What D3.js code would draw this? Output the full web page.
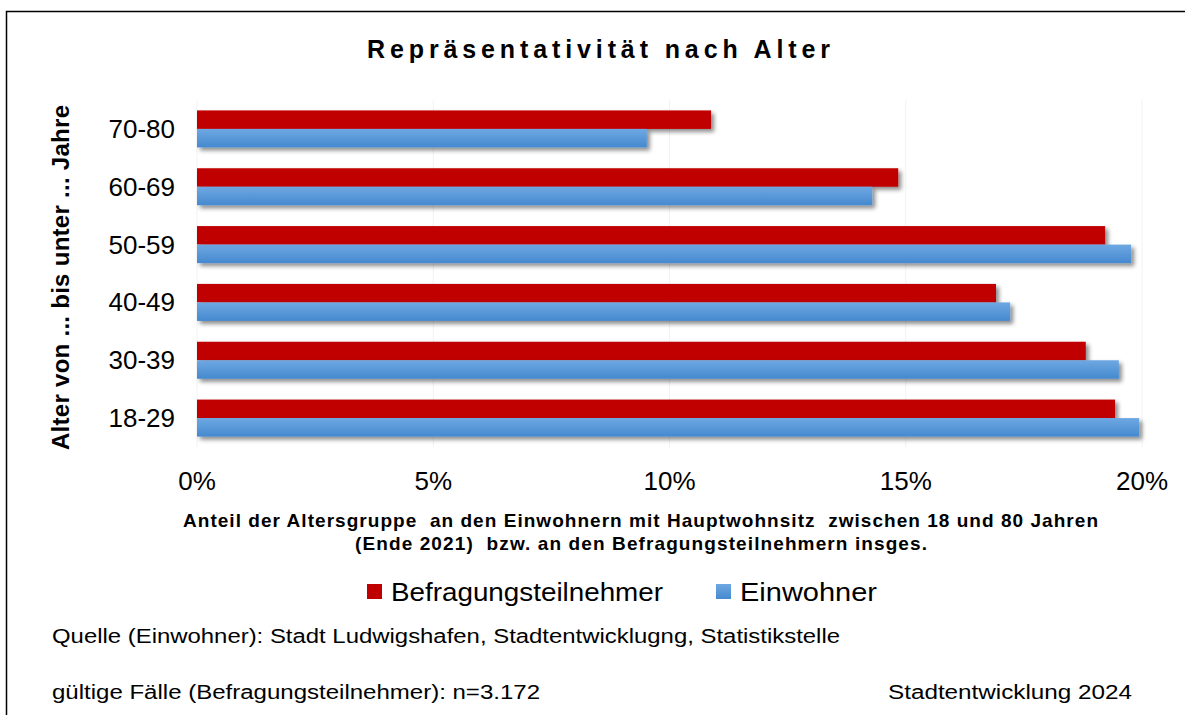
<!DOCTYPE html>
<html>
<head>
<meta charset="utf-8">
<script src="https://cdn.jsdelivr.net/npm/d3@7"></script>
<style>
  body { margin: 0; background: #fff; }
  text { font-family: "Liberation Sans", Arial, sans-serif; fill: #000; }
</style>
</head>
<body>
<div id="chart"></div>
<script>
// categories, top to bottom
const ageGroups = ["70-80", "60-69", "50-59", "40-49", "30-39", "18-29"];
const seriesNames = ["Befragungsteilnehmer", "Einwohner"];
// percent values per age group
const befragung = [10.88, 14.84, 19.22, 16.91, 18.81, 19.43];
const einwohner = [9.52, 14.29, 19.77, 17.21, 19.51, 19.94];
const xTicks = [0, 5, 10, 15, 20];

const W = 1185, H = 715;
const svg = d3.select("#chart").append("svg")
    .attr("width", W)
    .attr("height", H);

const defs = svg.append("defs");
const grad = defs.append("linearGradient")
    .attr("id", "blueGrad")
    .attr("x1", 0).attr("y1", 0).attr("x2", 0).attr("y2", 1);
grad.append("stop").attr("offset", "0%").attr("stop-color", "#6ea8e2");
grad.append("stop").attr("offset", "100%").attr("stop-color", "#4589cf");
const shadow = defs.append("filter")
    .attr("id", "shadow")
    .attr("x", "-5%").attr("y", "-30%").attr("width", "110%").attr("height", "190%");
shadow.append("feDropShadow")
    .attr("dx", 3).attr("dy", 3)
    .attr("stdDeviation", 2)
    .attr("flood-color", "#000")
    .attr("flood-opacity", 0.45);

// frame (right and bottom run off the picture)
svg.append("rect")
    .attr("x", 6.5).attr("y", 11.5)
    .attr("width", W + 10).attr("height", H + 10)
    .attr("fill", "none")
    .attr("stroke", "#000")
    .attr("stroke-width", 1.5);

const x = d3.scaleLinear().domain([0, 20]).range([197, 1142]);
const y = d3.scaleBand().domain(ageGroups).range([100, 447])
    .paddingInner(0.36).paddingOuter(0.18);
const ySub = d3.scaleBand().domain(seriesNames).range([0, y.bandwidth()]);

// faint grid
svg.append("g").selectAll("line")
    .data(xTicks)
    .join("line")
    .attr("x1", d => x(d)).attr("x2", d => x(d))
    .attr("y1", 100).attr("y2", 447)
    .attr("stroke", "#f2f2f2")
    .attr("stroke-width", 1);

const rows = ageGroups.map((g, i) => ({
    group: g,
    values: [
        {name: seriesNames[0], v: befragung[i]},
        {name: seriesNames[1], v: einwohner[i]}
    ]
}));

const fills = {
    "Befragungsteilnehmer": "#c00000",
    "Einwohner": "url(#blueGrad)"
};

svg.append("g").selectAll("g")
    .data(rows)
    .join("g")
    .attr("transform", d => `translate(0,${y(d.group)})`)
    .selectAll("rect")
    .data(d => d.values)
    .join("rect")
    .attr("x", x(0))
    .attr("y", d => ySub(d.name))
    .attr("width", d => x(d.v) - x(0))
    .attr("height", ySub.bandwidth())
    .attr("fill", d => fills[d.name])
    .attr("filter", "url(#shadow)");

// category labels
svg.append("g").selectAll("text")
    .data(ageGroups)
    .join("text")
    .attr("x", 175)
    .attr("y", d => y(d) + y.bandwidth() / 2 + 9)
    .attr("text-anchor", "end")
    .style("font-size", "26px")
    .text(d => d);

// x tick labels
svg.append("g").selectAll("text")
    .data(xTicks)
    .join("text")
    .attr("x", d => x(d))
    .attr("y", 490)
    .attr("text-anchor", "middle")
    .style("font-size", "26px")
    .text(d => d + "%");

// title
svg.append("text")
    .attr("x", 367).attr("y", 58)
    .attr("textLength", 463)
    .attr("lengthAdjust", "spacing")
    .style("font-size", "25px")
    .style("font-weight", "bold")
    .text("Repräsentativität nach Alter");

// y axis title
svg.append("text")
    .attr("transform", "translate(69,450) rotate(-90)")
    .attr("textLength", 345)
    .attr("lengthAdjust", "spacing")
    .style("font-size", "24px")
    .style("font-weight", "bold")
    .text("Alter von ... bis unter ... Jahre");

// x axis title
const xTitle = [
    {t: "Anteil der Altersgruppe  an den Einwohnern mit Hauptwohnsitz  zwischen 18 und 80 Jahren", x: 183, w: 915},
    {t: "(Ende 2021)  bzw. an den Befragungsteilnehmern insges.", x: 355, w: 572}
];
svg.append("g").selectAll("text")
    .data(xTitle)
    .join("text")
    .attr("x", d => d.x)
    .attr("y", (d, i) => 527 + i * 23)
    .attr("textLength", d => d.w)
    .attr("lengthAdjust", "spacing")
    .style("font-size", "19px")
    .style("font-weight", "bold")
    .style("white-space", "pre")
    .text(d => d.t);

// legend
const legendX = [367, 716];
const legendW = [272, 137];
const lg = svg.append("g").selectAll("g")
    .data(seriesNames)
    .join("g")
    .attr("transform", (d, i) => `translate(${legendX[i]},584)`);
lg.append("rect")
    .attr("width", 15).attr("height", 15)
    .attr("fill", d => fills[d]);
lg.append("text")
    .attr("x", 24).attr("y", 17)
    .attr("textLength", (d, i) => legendW[i])
    .attr("lengthAdjust", "spacingAndGlyphs")
    .style("font-size", "25px")
    .text(d => d);

// footer notes
const notes = [
    {t: "Quelle (Einwohner): Stadt Ludwigshafen, Stadtentwicklugng, Statistikstelle", x: 52, y: 643, w: 788},
    {t: "gültige Fälle (Befragungsteilnehmer): n=3.172", x: 52, y: 699, w: 488},
    {t: "Stadtentwicklung 2024", x: 888, y: 699, w: 244}
];
svg.append("g").selectAll("text")
    .data(notes)
    .join("text")
    .attr("x", d => d.x)
    .attr("y", d => d.y)
    .attr("textLength", d => d.w)
    .attr("lengthAdjust", "spacingAndGlyphs")
    .style("font-size", "20px")
    .text(d => d.t);
</script>
</body>
</html>
